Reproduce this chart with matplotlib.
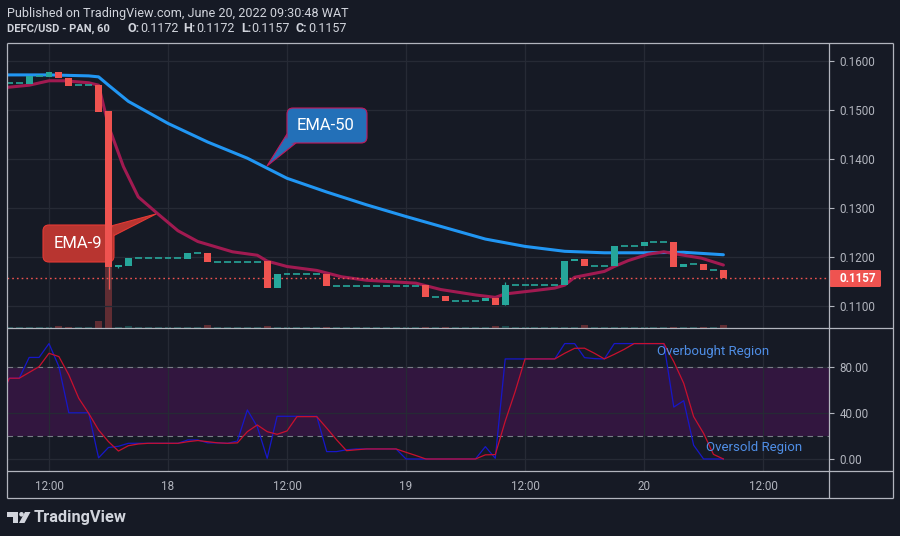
import numpy as np
import matplotlib.pyplot as plt
from matplotlib.patches import FancyBboxPatch, Polygon, Circle
from matplotlib.transforms import Affine2D

plt.rcParams['font.family'] = ['Roboto', 'DejaVu Sans']

# hourly candles, hour 0 = 17 Jun 00:00
hours = list(range(8, 81))
opens = [.1554, .1554, .1552, .1569, .1567, .1576, .1565, .1550, .1550, .1550,
         .1497, .1178, .1182, .1197, .1197, .1197, .1197, .1197, .1196, .1208,
         .1208, .1190, .1190, .1190, .1190, .1190, .1191, .1136, .1165, .1165,
         .1165, .1165, .1165, .1141, .1141, .1141, .1141, .1141, .1141, .1141,
         .1141, .1141, .1142, .1118, .1119, .1110, .1110, .1110, .1110, .1115,
         .1102, .1142, .1142, .1142, .1142, .1142, .1142, .1191, .1195, .1182,
         .1182, .1182, .1222, .1222, .1222, .1229, .1229, .1229, .1180, .1185,
         .1185, .1172, .1172]
closes = [.1554, .1554, .1569, .1569, .1576, .1565, .1549, .1550, .1550, .1496,
          .1178, .1183, .1197, .1197, .1197, .1197, .1197, .1197, .1208, .1208,
          .1190, .1190, .1190, .1190, .1190, .1190, .1136, .1165, .1165, .1165,
          .1165, .1165, .1141, .1141, .1141, .1141, .1141, .1141, .1141, .1141,
          .1141, .1141, .1118, .1118, .1110, .1110, .1110, .1110, .1115, .1102,
          .1142, .1142, .1142, .1142, .1142, .1142, .1191, .1195, .1182, .1182,
          .1182, .1222, .1222, .1222, .1229, .1229, .1229, .1180, .1185, .1185,
          .1172, .1172, .1157]
volume = [0.8, 0.8, 0.8, 0.8, 0.8, 2.5, 1.5, 0.8, 0.8, 7,
          62, 1.5, 2.5, 0.8, 0.8, 0.8, 0.8, 0.8, 0.8, 0.8,
          3, 0.8, 0.8, 0.8, 0.8, 0.8, 2.5, 0.8, 0.8, 0.8,
          0.8, 0.8, 1.2, 0.8, 0.8, 0.8, 0.8, 0.8, 0.8, 0.8,
          0.8, 0.8, 1.2, 0.8, 0.8, 0.8, 0.8, 0.8, 0.8, 2,
          2, 0.8, 0.8, 0.8, 0.8, 0.8, 0.8, 0.8, 3, 0.8,
          0.8, 0.8, 0.8, 0.8, 0.8, 0.8, 0.8, 1.2, 0.8, 0.8,
          1.2, 0.8, 3]
wick_hours = [18, 19, 58]
wick_lo = [.1135, .1176, .1102]
wick_hi = [.1497, .1183, .1149]

ema9_h = [7, 10, 12, 13.5, 16, 17, 18, 19.5, 21, 23, 25, 27, 30.5, 33, 34, 36, 39,
          41.5, 44, 49, 51.5, 55, 57, 58, 61, 63, 64, 65, 68, 69, 70.4, 72.4, 74,
          75.4, 77.8, 80]
ema9_v = [.1544, .1550, .1559, .1559, .1555, .1550, .1467, .1384, .1322, .1287,
          .1253, .1231, .1210, .1203, .1191, .1180, .1172, .1159, .1152, .1146,
          .1133, .1122, .1117, .1124, .1131, .1136, .1142, .1158, .1170, .1180,
          .1192, .1205, .1210, .1205, .1197, .1183]
ema50_h = [7, 12, 16, 17, 18, 20, 24, 28, 32, 36, 40, 44, 48, 52, 56, 60, 64, 68,
           72, 76, 80]
ema50_v = [.1571, .1571, .1569, .1567, .1550, .1517, .1472, .1434, .1401, .1360,
           .1332, .1306, .1282, .1259, .1236, .1221, .1211, .1208, .1208, .1209,
           .1204]

stoch_h = list(range(7, 81))
stoch_k = [50, 70, 70, 88, 88, 100, 80, 40, 40, 40, 1, 10, 11, 13.6, 13.6, 13.6,
           13.6, 13.6, 13.6, 16.5, 16.5, 14, 14, 13.6, 15.6, 42.5, 28, 0.6, 37, 37,
           37, 37, 37, 6.4, 6.4, 8, 8.7, 8.7, 8.7, 8.7, 8.7, 0, 0, 0, 0, 0, 0, 0, 0,
           10.7, 0.6, 86.7, 86.7, 86.7, 86.7, 86.7, 86.7, 100, 100, 87.8, 87, 86.7,
           100, 100, 100, 100, 100, 100, 45, 50.5, 12, 0, 0, 0]
stoch_d = [50, 70, 70, 75, 80, 91.6, 88.7, 72.8, 52.6, 39.6, 25.1, 15, 6.9, 11.5,
           13, 13.6, 13.6, 13.6, 13.6, 15, 16, 15, 14, 13.6, 14, 23.7, 29.5, 23.7,
           21.4, 24.3, 36.7, 36.7, 36.7, 26.8, 16.6, 7.2, 8, 8.7, 8.7, 8.7, 8.7, 5.8,
           3, 0, 0, 0, 0, 0, 0, 3.6, 3.8, 32.7, 58.3, 86.7, 86.7, 86.7, 86.7, 91.6,
           95.9, 96, 91.6, 86.7, 90.7, 95, 100, 100, 100, 100, 84.3, 65.6, 36.7,
           22.3, 4, 0]

price_ticks = [0.11, 0.12, 0.13, 0.14, 0.15, 0.16]
time_ticks = [12, 24, 36, 48, 60, 72, 84]
time_labels = ['12:00', '18', '12:00', '19', '12:00', '20', '12:00']
stoch_ticks = [0, 40, 80]
last_price = 0.1157

W, H = 900, 536
bg = '#161a25'
gridc = '#262a35'
framec = '#b2b5be'
txtc = '#b2b5be'
upc = '#26a69a'
downc = '#ef5350'
xlim = (7.765, 90.65)


def rect(l, t, r, b):
    return [l / W, 1 - b / H, (r - l) / W, (b - t) / H]


fig = plt.figure(figsize=(9, 5.36), dpi=100, facecolor=bg)
pix = Affine2D().scale(1, -1).translate(0, H)

# volume pane (behind the price pane)
ax_v = fig.add_axes(rect(7, 43, 829, 328), facecolor=bg, zorder=0)
ax_v.set_xlim(*xlim)
ax_v.set_ylim(0, 285)
ax_v.axis('off')
vcol = [upc if c >= o else downc for o, c in zip(opens, closes)]
ax_v.bar(hours, volume, width=0.7, color=vcol, alpha=0.35)

# price pane
ax_p = fig.add_axes(rect(7, 43, 829, 328), facecolor='none', zorder=1)
ax_p.set_xlim(*xlim)
ax_p.set_ylim(0.10545, 0.16361)
ax_p.set_axisbelow(True)
ax_p.set_xticks(time_ticks)
ax_p.set_yticks(price_ticks)
ax_p.set_yticklabels([f'{v:.4f}' for v in price_ticks])
ax_p.grid(True, color=gridc, lw=0.9)
ax_p.yaxis.tick_right()
ax_p.tick_params(axis='y', length=3.6, width=0.8, color=framec, pad=3.8,
                 labelcolor=txtc, labelsize=8.4)
ax_p.tick_params(axis='x', length=0, labelbottom=False)
for s in ax_p.spines.values():
    s.set_visible(False)

ax_p.plot(ema50_h, ema50_v, color='#2196f3', lw=2.2, zorder=2, solid_capstyle='round')
ax_p.plot(ema9_h, ema9_v, color='#a11a51', lw=2.2, zorder=2, solid_capstyle='round')

bodies_lo = [min(o, c) for o, c in zip(opens, closes)]
bodies_h = [abs(c - o) for o, c in zip(opens, closes)]
ccol = [upc if c > o else downc for o, c in zip(opens, closes)]
ax_p.vlines(wick_hours, wick_lo, wick_hi, color=[upc, upc, upc], lw=0.9, zorder=4)
ax_p.vlines([18], [0.1135], [0.1178], color=downc, lw=0.9, zorder=4)
ax_p.bar(hours, bodies_h, bottom=bodies_lo, width=0.7, color=ccol, zorder=5)
flat_h = [h for h, o, c in zip(hours, opens, closes) if o == c]
flat_v = [c for o, c in zip(opens, closes) if o == c]
ax_p.hlines(flat_v, [h - 0.35 for h in flat_h], [h + 0.35 for h in flat_h],
            color=upc, lw=1.2, zorder=5)

ax_p.axhline(last_price, color=downc, lw=1.0, ls=(0, (1.2, 2.2)), zorder=3)

# EMA-50 callout
ax_p.add_patch(Polygon([(287, 134), (267, 166), (296, 143)], closed=True,
                       transform=pix, facecolor='#2370b8', edgecolor='#c2185b',
                       lw=0.8, zorder=3, clip_on=False))
ax_p.add_patch(FancyBboxPatch((287, 108), 80, 35, boxstyle='round,pad=0,rounding_size=6',
                              transform=pix, facecolor='#2370b8', edgecolor='#c2185b',
                              lw=0.8, zorder=3, clip_on=False))
ax_p.add_patch(Polygon([(288, 137), (281, 148), (295, 142)], closed=True, transform=pix,
                       facecolor='#2370b8', edgecolor='none', zorder=3, clip_on=False))
ax_p.text(326, 125, 'EMA-50', transform=pix, color='white', fontsize=12,
          ha='center', va='center', zorder=3)

# EMA-9 callout
ax_p.add_patch(Polygon([(111, 226), (156, 214), (113, 236)], closed=True, transform=pix,
                       facecolor='#b83530', edgecolor='#e53935', lw=0.8, zorder=3,
                       clip_on=False))
ax_p.add_patch(FancyBboxPatch((43, 225), 71, 37, boxstyle='round,pad=0,rounding_size=6',
                              transform=pix, facecolor='#b83530', edgecolor='#e53935',
                              lw=0.8, zorder=3, clip_on=False))
ax_p.add_patch(Polygon([(112, 227.5), (120, 226), (114, 235)], closed=True, transform=pix,
                       facecolor='#b83530', edgecolor='none', zorder=3, clip_on=False))
ax_p.text(78, 243, 'EMA-9', transform=pix, color='white', fontsize=12,
          ha='center', va='center', zorder=3)

# stochastic pane
ax_s = fig.add_axes(rect(7, 328, 829, 471), facecolor=bg, zorder=1)
ax_s.set_xlim(*xlim)
ax_s.set_ylim(-10.4, 113.5)
ax_s.set_axisbelow(True)
ax_s.axhspan(20, 80, color='#32163f', lw=0, zorder=0.2)
ax_s.set_xticks(time_ticks)
ax_s.set_xticklabels(time_labels)
ax_s.set_yticks(stoch_ticks)
ax_s.set_yticklabels([f'{v:.2f}' for v in stoch_ticks])
ax_s.grid(True, color=gridc, lw=0.9)
ax_s.yaxis.tick_right()
ax_s.tick_params(axis='y', length=3.6, width=0.8, color=framec, pad=3.8,
                 labelcolor=txtc, labelsize=8.4)
ax_s.tick_params(axis='x', length=0, pad=6.5, labelcolor=txtc, labelsize=8.4)
for s in ax_s.spines.values():
    s.set_visible(False)
for lvl in (20, 80):
    ax_s.axhline(lvl, color='#787b86', lw=0.8, ls=(0, (5, 4)), zorder=0.6)
ax_s.plot(stoch_h, stoch_k, color='#1717c9', lw=0.9, zorder=2)
ax_s.plot(stoch_h, stoch_d, color='#c8102e', lw=0.9, zorder=2)
ax_s.text(657, 352, 'Overbought Region', transform=pix, color='#4f8ee6',
          fontsize=9.5, ha='left', va='center', zorder=3)
ax_s.text(706, 448, 'Oversold Region', transform=pix, color='#4f8ee6',
          fontsize=9.5, ha='left', va='center', zorder=3)

# overlay: frame, header, price label, logo
ov = fig.add_axes([0, 0, 1, 1], facecolor='none', zorder=10)
ov.set_xlim(0, W)
ov.set_ylim(H, 0)
ov.axis('off')
for (x0, y0, x1, y1) in [(7, 43, 893, 43), (7, 498, 893, 498), (7, 43, 7, 498),
                         (893, 43, 893, 498), (829, 43, 829, 498),
                         (7, 328, 893, 328), (7, 471, 893, 471)]:
    ov.plot([x0, x1], [y0, y1], color=framec, lw=0.9, solid_capstyle='butt')

ov.add_patch(FancyBboxPatch((829.5, 270), 51.5, 17, boxstyle='round,pad=0,rounding_size=1.5',
                            facecolor=downc, edgecolor='none'))
ov.text(839, 278.5, f'{last_price:.4f}', color='white', fontsize=8.4,
        fontweight='bold', ha='left', va='center')

hdr = '#d1d4dc'
ov.text(7, 13, 'Published on TradingView.com, June 20, 2022 09:30:48 WAT',
        color=hdr, fontsize=9.1, ha='left', va='center')
ov.text(7, 29, 'DEFC/USD - PAN, 60', color=hdr, fontsize=8.0, fontweight='bold',
        ha='left', va='center')
for x, s, w in [(127, 'O:', 'bold'), (140, '0.1172', 'normal'),
                (183, 'H:', 'bold'), (196, '0.1172', 'normal'),
                (241, 'L:', 'bold'), (251, '0.1157', 'normal'),
                (295, 'C:', 'bold'), (308, '0.1157', 'normal')]:
    ov.text(x, 29, s, color=hdr, fontsize=9.0, fontweight=w, ha='left', va='center')

logoc = '#d1d4dc'
ov.add_patch(Polygon([(7, 512), (18, 512), (18, 523), (13, 523), (13, 516.5), (7, 516.5)],
                     closed=True, facecolor=logoc, edgecolor='none'))
ov.add_patch(Circle((21.5, 514.3), 2.3, facecolor=logoc, edgecolor='none'))
ov.add_patch(Polygon([(25, 512), (30.5, 512), (24.5, 523), (19, 523)], closed=True,
                     facecolor=logoc, edgecolor='none'))
ov.text(34, 517.5, 'TradingView', color=logoc, fontsize=11.8, fontweight='bold',
        ha='left', va='center')

fig.savefig('out.png', dpi=100, facecolor=bg)
